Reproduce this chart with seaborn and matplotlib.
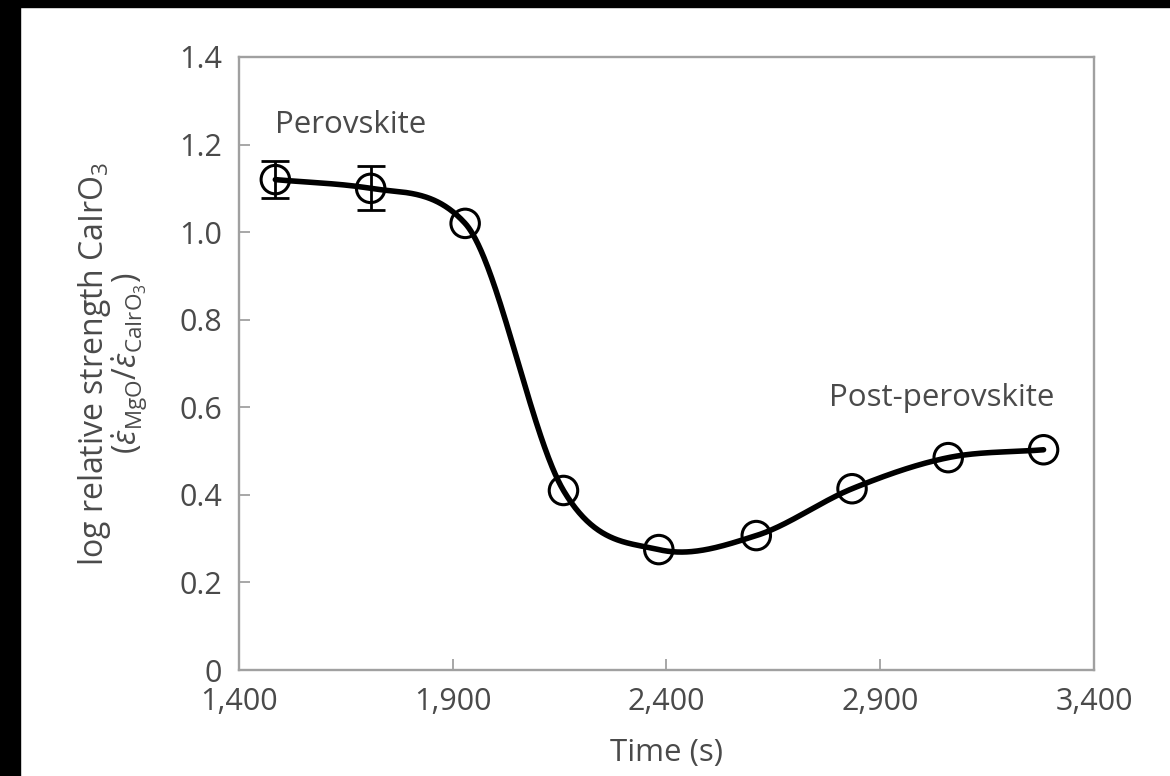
import numpy as np
import matplotlib
matplotlib.use("Agg")
import matplotlib.pyplot as plt
import seaborn as sns

# Measured relative strength of CaIrO3 over the transformation run
time_s = [1485, 1708, 1929, 2159, 2382, 2610, 2834, 3059, 3282]
log_strength = [1.12, 1.10, 1.02, 0.41, 0.275, 0.307, 0.414, 0.485, 0.503]
strength_err = [0.043, 0.05, 0.0, 0.0, 0.0, 0.0, 0.0, 0.0, 0.0]

x_ticks = [1400, 1900, 2400, 2900, 3400]
x_tick_labels = ["1,400", "1,900", "2,400", "2,900", "3,400"]
y_ticks = [0, 0.2, 0.4, 0.6, 0.8, 1.0, 1.2, 1.4]
y_tick_labels = ["0", "0.2", "0.4", "0.6", "0.8", "1.0", "1.2", "1.4"]


def hermite_curve(x, y, xq):
    """Cubic Hermite guide curve: finite-difference slopes, limited
    per interval (Fritsch-Carlson) so monotone runs do not overshoot."""
    x = np.asarray(x, float)
    y = np.asarray(y, float)
    h = np.diff(x)
    delta = np.diff(y) / h
    n = len(x)
    d = np.zeros(n)
    d[1:-1] = (y[2:] - y[:-2]) / (x[2:] - x[:-2])
    d[0] = delta[0]
    d[-1] = delta[-1]
    for k in range(n - 1):
        if delta[k] == 0:
            continue
        a = d[k] / delta[k]
        b = d[k + 1] / delta[k]
        r = a * a + b * b
        if a > 0 and b > 0 and r > 9:
            tau = 3 / np.sqrt(r)
            d[k] = tau * a * delta[k]
            d[k + 1] = tau * b * delta[k]
    idx = np.clip(np.searchsorted(x, xq) - 1, 0, n - 2)
    t = (xq - x[idx]) / h[idx]
    h00 = 2 * t**3 - 3 * t**2 + 1
    h10 = t**3 - 2 * t**2 + t
    h01 = -2 * t**3 + 3 * t**2
    h11 = t**3 - t**2
    return (h00 * y[idx] + h10 * h[idx] * d[idx]
            + h01 * y[idx + 1] + h11 * h[idx] * d[idx + 1])


sns.set_theme(style="white")
plt.rcParams["font.family"] = ["Open Sans", "DejaVu Sans"]
plt.rcParams["mathtext.fontset"] = "custom"
plt.rcParams["mathtext.rm"] = "Open Sans"
plt.rcParams["mathtext.it"] = "Open Sans:italic"

fig = plt.figure(figsize=(11.7, 7.76), dpi=100)
ax = fig.add_axes([239 / 1170, 1 - 670 / 776, (1094 - 239) / 1170, (670 - 57) / 776])

# dark frame along the left and top edges of the page
fig.patches.append(plt.Rectangle((0, 0), 20 / 1170, 1, transform=fig.transFigure,
                                 color="black", zorder=-10))
fig.patches.append(plt.Rectangle((0, 1 - 7 / 776), 1, 7 / 776, transform=fig.transFigure,
                                 color="black", zorder=-10))

# smooth guide curve through the measurements
xs = np.linspace(time_s[0], time_s[-1], 800)
ys = hermite_curve(time_s, log_strength, xs)
sns.lineplot(x=xs, y=ys, ax=ax, color="black", linewidth=4.0, zorder=3,
             sort=False, estimator=None)

# error bars where they exceed the symbol size
err_t = [t for t, e in zip(time_s, strength_err) if e > 0]
err_v = [v for v, e in zip(log_strength, strength_err) if e > 0]
err_e = [e for e in strength_err if e > 0]
ax.errorbar(err_t, err_v, yerr=err_e, fmt="none", ecolor="black",
            elinewidth=2.0, capsize=10, capthick=2.0, zorder=2)

# open circle markers
sns.scatterplot(x=time_s, y=log_strength, ax=ax, marker="o", s=420,
                facecolor="none", edgecolor="black", linewidth=2.2, zorder=4)

ax.set_xlim(1400, 3400)
ax.set_ylim(0, 1.4)
ax.set_xticks(x_ticks)
ax.set_xticklabels(x_tick_labels)
ax.set_yticks(y_ticks)
ax.set_yticklabels(y_tick_labels)

text_col = "#4a4a4a"
ax.tick_params(axis="both", direction="in", length=8, width=1.3, color="#a0a0a0",
               labelsize=22, labelcolor=text_col, bottom=True, left=True)
ax.tick_params(axis="x", pad=12)
ax.tick_params(axis="y", pad=12)
for sp in ax.spines.values():
    sp.set_color("#a0a0a0")
    sp.set_linewidth(1.7)

ax.set_xlabel("Time (s)", fontsize=22.5, color=text_col, labelpad=15)
ax.set_ylabel("log relative strength CaIrO$_3$\n"
              r"($\dot{\varepsilon}_{\mathrm{MgO}}/\dot{\varepsilon}_{\mathrm{CaIrO_3}}$)",
              fontsize=23, color=text_col, labelpad=22, linespacing=0.85)

ax.text(1485, 1.245, "Perovskite", fontsize=22.5, color=text_col,
        ha="left", va="center")
ax.text(3307, 0.622, "Post-perovskite", fontsize=22.5, color=text_col,
        ha="right", va="center")

fig.savefig("out.png", dpi=100, facecolor="white")
